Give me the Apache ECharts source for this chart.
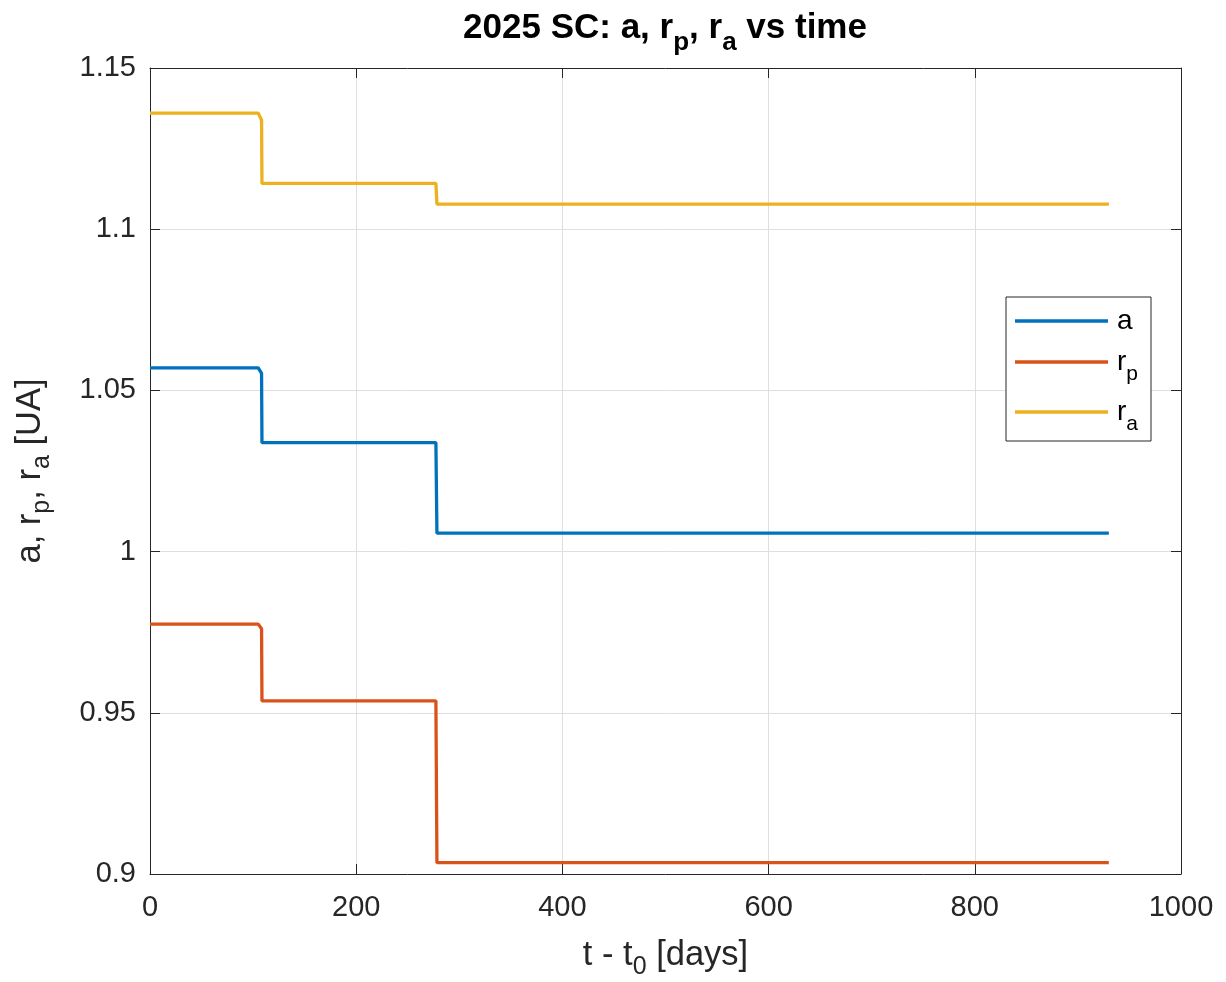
<!DOCTYPE html>
<html>
<head>
<meta charset="utf-8">
<script src="https://cdn.jsdelivr.net/npm/echarts@6/dist/echarts.min.js"></script>
<style>html,body{margin:0;padding:0;background:#fff;}#c{width:1226px;height:982px;}</style>
</head>
<body>
<div id="c"></div>
<script>
// time since t0 [days]
const timeDays = [0, 105, 108.2, 108.6, 277.3, 278.3, 930];
// semi-major axis a [UA]
const aVals  = [1.0570, 1.0570, 1.0553, 1.0338, 1.0338, 1.0057, 1.0057];
// perihelion r_p [UA]
const rpVals = [0.9775, 0.9775, 0.9761, 0.9537, 0.9537, 0.9035, 0.9035];
// aphelion r_a [UA]
const raVals = [1.1360, 1.1360, 1.1339, 1.1142, 1.1142, 1.1078, 1.1078];
const xTicks = [0, 200, 400, 600, 800, 1000];
const yTicks = [0.9, 0.95, 1, 1.05, 1.1, 1.15];
const seriesNames = ['a', 'rp', 'ra'];

const FONT = '"Liberation Sans", Arial, Helvetica, sans-serif';
const AX = '#262626';
const GRID = '#dfdfdf';
const colors = ['#0072BD', '#D95319', '#EDB120'];

const pairs = (ys) => timeDays.map((t, i) => [t, ys[i]]);
const fmtY = v => parseFloat(v.toFixed(2)).toString();
const fmtX = v => String(Math.round(v));

const chart = echarts.init(document.getElementById('c'), null, {renderer: 'canvas'});
const baseX = {
  type: 'value', min: xTicks[0], max: xTicks[xTicks.length - 1], interval: 200,
  axisLine: {show: true, onZero: false, lineStyle: {color: AX, width: 1}},
  axisTick: {show: true, inside: true, length: 10, lineStyle: {color: AX}},
};
const baseY = {
  type: 'value', min: yTicks[0], max: yTicks[yTicks.length - 1], interval: 0.05,
  axisLine: {show: true, onZero: false, lineStyle: {color: AX, width: 1}},
  axisTick: {show: true, inside: true, length: 10, lineStyle: {color: AX}},
};
const nameRich = {
  m: {fontFamily: FONT, fontSize: 34.5, color: AX, lineHeight: 50, verticalAlign: 'middle'},
  s: {fontFamily: FONT, fontSize: 25, color: AX, lineHeight: 22, verticalAlign: 'bottom'}
};

chart.setOption({
  animation: false,
  backgroundColor: '#ffffff',
  color: colors,
  title: {
    text: '{b|2025 SC: a, r}{bs|p}{b|, r}{bs|a}{b| vs time}',
    left: 665, top: 0, textAlign: 'center', padding: 0,
    textStyle: {
      rich: {
        b: {fontFamily: FONT, fontSize: 35, fontWeight: 'bold', color: '#000', lineHeight: 56, verticalAlign: 'middle'},
        bs: {fontFamily: FONT, fontSize: 26, fontWeight: 'bold', color: '#000', lineHeight: 22, verticalAlign: 'bottom'}
      }
    }
  },
  grid: {left: 150, right: 45, top: 68, bottom: 108, containLabel: false, outerBoundsMode: 'none'},
  legend: {
    orient: 'vertical', left: 1006, top: 297,
    data: seriesNames,
    icon: 'rect', itemWidth: 93, itemHeight: 3.4, itemGap: 13,
    padding: [10, 13, 6, 9],
    backgroundColor: '#fff', borderColor: AX, borderWidth: 1, borderRadius: 0,
    formatter: n => n === 'a' ? '{a|a}' : (n === 'rp' ? '{m|r}{s|p}' : '{m|r}{s|a}'),
    textStyle: {padding: [0, 0, 0, 4], rich: {
      a: {fontFamily: FONT, fontSize: 28, color: '#000', lineHeight: 32, verticalAlign: 'middle'},
      m: {fontFamily: FONT, fontSize: 28, color: '#000', lineHeight: 46, verticalAlign: 'middle'},
      s: {fontFamily: FONT, fontSize: 21, color: '#000', lineHeight: 22, verticalAlign: 'bottom'}
    }}
  },
  xAxis: [
    Object.assign({}, baseX, {
      position: 'bottom',
      name: '{m|t - t}{s|0}{m| [days]}', nameLocation: 'middle', nameGap: 56,
      nameTextStyle: {rich: nameRich},
      axisLabel: {show: true, fontFamily: FONT, fontSize: 29, color: AX, margin: 19, formatter: fmtX},
      splitLine: {show: true, lineStyle: {color: GRID, width: 1}}
    }),
    Object.assign({}, baseX, {
      position: 'top', axisLabel: {show: false}, splitLine: {show: false}
    })
  ],
  yAxis: [
    Object.assign({}, baseY, {
      position: 'left',
      name: '{m|a, r}{s|p}{m|, r}{s|a}{m| [UA]}', nameLocation: 'middle', nameGap: 95,
      nameRotate: 90,
      nameTextStyle: {rich: nameRich},
      axisLabel: {show: true, fontFamily: FONT, fontSize: 29, color: AX, margin: 14, formatter: fmtY},
      splitLine: {show: true, lineStyle: {color: GRID, width: 1}}
    }),
    Object.assign({}, baseY, {
      position: 'right', axisLabel: {show: false}, splitLine: {show: false}
    })
  ],
  series: [
    {name: seriesNames[0], type: 'line', data: pairs(aVals), showSymbol: false, symbol: 'none', lineStyle: {width: 3.3, color: colors[0]}, z: 3},
    {name: seriesNames[1], type: 'line', data: pairs(rpVals), showSymbol: false, symbol: 'none', lineStyle: {width: 3.3, color: colors[1]}, z: 3},
    {name: seriesNames[2], type: 'line', data: pairs(raVals), showSymbol: false, symbol: 'none', lineStyle: {width: 3.3, color: colors[2]}, z: 3}
  ]
});
</script>
</body>
</html>
